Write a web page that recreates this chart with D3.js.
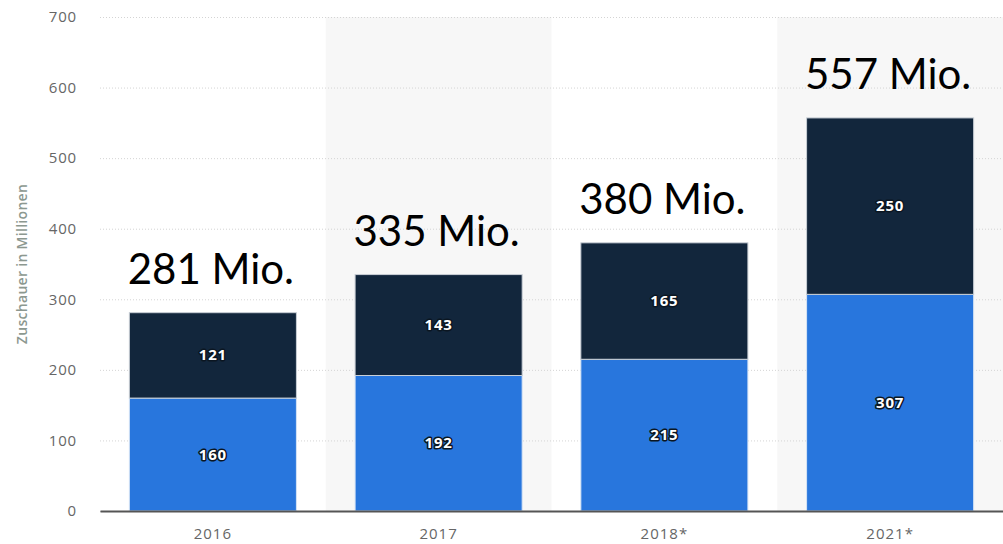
<!DOCTYPE html>
<html>
<head>
<meta charset="utf-8">
<script src="https://cdn.jsdelivr.net/npm/d3@7"></script>
<style>
  body { margin: 0; background: #fff; }
  svg { display: block; }
  .inlabel { font-family: "Open Sans", sans-serif; font-weight: 700; font-size: 15px; fill: #fff;
             letter-spacing: 0.8px;
             paint-order: stroke; stroke: #0b1622; stroke-width: 3px; stroke-linejoin: round; }
</style>
</head>
<body>
<script>
// chart data
var years = ["2016", "2017", "2018*", "2021*"];
var lower = [160, 192, 215, 307];
var upper = [121, 143, 165, 250];
var totals = ["281 Mio.", "335 Mio.", "380 Mio.", "557 Mio."];
var yTicks = [0, 100, 200, 300, 400, 500, 600, 700];

var w = 1003;
var h = 544;
var plotLeft = 100;
var plotRight = 1003;
var plotTop = 17;
var plotBottom = 511;

var svg = d3.select("body").append("svg")
            .attr("width", w)
            .attr("height", h);

var xScale = d3.scaleBand()
               .domain(years)
               .range([plotLeft, plotRight])
               .paddingInner(0.26)
               .paddingOuter(0.13);

var yScale = d3.scaleLinear()
               .domain([0, 700])
               .range([plotBottom, plotTop]);

// shaded background for every second column
var step = xScale.step();
svg.selectAll("rect.band")
   .data(years.filter(function(d, i) { return i % 2 == 1; }))
   .enter()
   .append("rect")
   .attr("class", "band")
   .attr("x", function(d) { return xScale(d) - step * xScale.paddingInner() / 2; })
   .attr("y", plotTop)
   .attr("width", step)
   .attr("height", plotBottom - plotTop)
   .attr("fill", "#f7f7f7");

// y axis with dotted grid lines
var yAxis = d3.axisLeft(yScale)
              .tickValues(yTicks)
              .tickSize(-(plotRight - plotLeft))
              .tickPadding(23);

var gy = svg.append("g")
            .attr("transform", "translate(" + plotLeft + ",0)")
            .call(yAxis);
gy.select(".domain").remove();
gy.selectAll(".tick line")
  .attr("stroke", "#d4d4d4")
  .attr("stroke-dasharray", "1,2");
gy.selectAll(".tick text")
  .attr("fill", "#666")
  .style("font-family", "Open Sans, sans-serif")
  .style("font-size", "15px")
  .style("letter-spacing", "0.8px");

svg.append("text")
   .attr("transform", "translate(27," + 264 + ") rotate(-90)")
   .attr("text-anchor", "middle")
   .style("font-family", "Open Sans, sans-serif")
   .style("font-size", "14px")
   .style("font-weight", "600")
   .style("letter-spacing", "0.3px")
   .attr("fill", "#8c9890")
   .text("Zuschauer in Millionen");

// stacked bars
var rows = years.map(function(y, i) {
  return {year: y, lower: lower[i], upper: upper[i], total: totals[i]};
});

svg.selectAll("rect.lower")
   .data(rows)
   .enter()
   .append("rect")
   .attr("class", "lower")
   .attr("x", function(d) { return xScale(d.year); })
   .attr("y", function(d) { return yScale(d.lower); })
   .attr("width", xScale.bandwidth())
   .attr("height", function(d) { return yScale(0) - yScale(d.lower); })
   .attr("fill", "#2876dd")
   .attr("stroke", "#d6e4f5")
   .attr("stroke-width", 1);

svg.selectAll("rect.upper")
   .data(rows)
   .enter()
   .append("rect")
   .attr("class", "upper")
   .attr("x", function(d) { return xScale(d.year); })
   .attr("y", function(d) { return yScale(d.lower + d.upper); })
   .attr("width", xScale.bandwidth())
   .attr("height", function(d) { return yScale(d.lower) - yScale(d.lower + d.upper); })
   .attr("fill", "#12263c")
   .attr("stroke", "#c9cfd6")
   .attr("stroke-width", 1);

// labels inside the bars
svg.selectAll("text.low")
   .data(rows)
   .enter()
   .append("text")
   .attr("class", "inlabel")
   .attr("x", function(d) { return xScale(d.year) + xScale.bandwidth() / 2; })
   .attr("y", function(d) { return yScale(d.lower / 2) + 5; })
   .attr("text-anchor", "middle")
   .text(function(d) { return d.lower; });

svg.selectAll("text.up")
   .data(rows)
   .enter()
   .append("text")
   .attr("class", "inlabel")
   .attr("x", function(d) { return xScale(d.year) + xScale.bandwidth() / 2; })
   .attr("y", function(d) { return yScale(d.lower + d.upper / 2) + 5; })
   .attr("text-anchor", "middle")
   .text(function(d) { return d.upper; });

// big total labels above bars
svg.selectAll("text.total")
   .data(rows)
   .enter()
   .append("text")
   .attr("x", function(d) { return xScale(d.year) + xScale.bandwidth() / 2 - 2; })
   .attr("y", function(d) { return yScale(d.lower + d.upper) - 29; })
   .attr("text-anchor", "middle")
   .style("font-family", "Lato, sans-serif")
   .style("font-size", "42px")
   .attr("fill", "#000")
   .text(function(d) { return d.total; });

// x axis
var xAxis = d3.axisBottom(xScale).tickSize(0).tickPadding(17);
var gx = svg.append("g")
            .attr("transform", "translate(0," + plotBottom + ")")
            .call(xAxis);
gx.select(".domain")
  .attr("stroke", "#555")
  .attr("stroke-width", 2);
gx.selectAll(".tick text")
  .attr("fill", "#666")
  .style("font-family", "Open Sans, sans-serif")
  .style("font-size", "15px")
  .style("letter-spacing", "1px");
</script>
</body>
</html>
